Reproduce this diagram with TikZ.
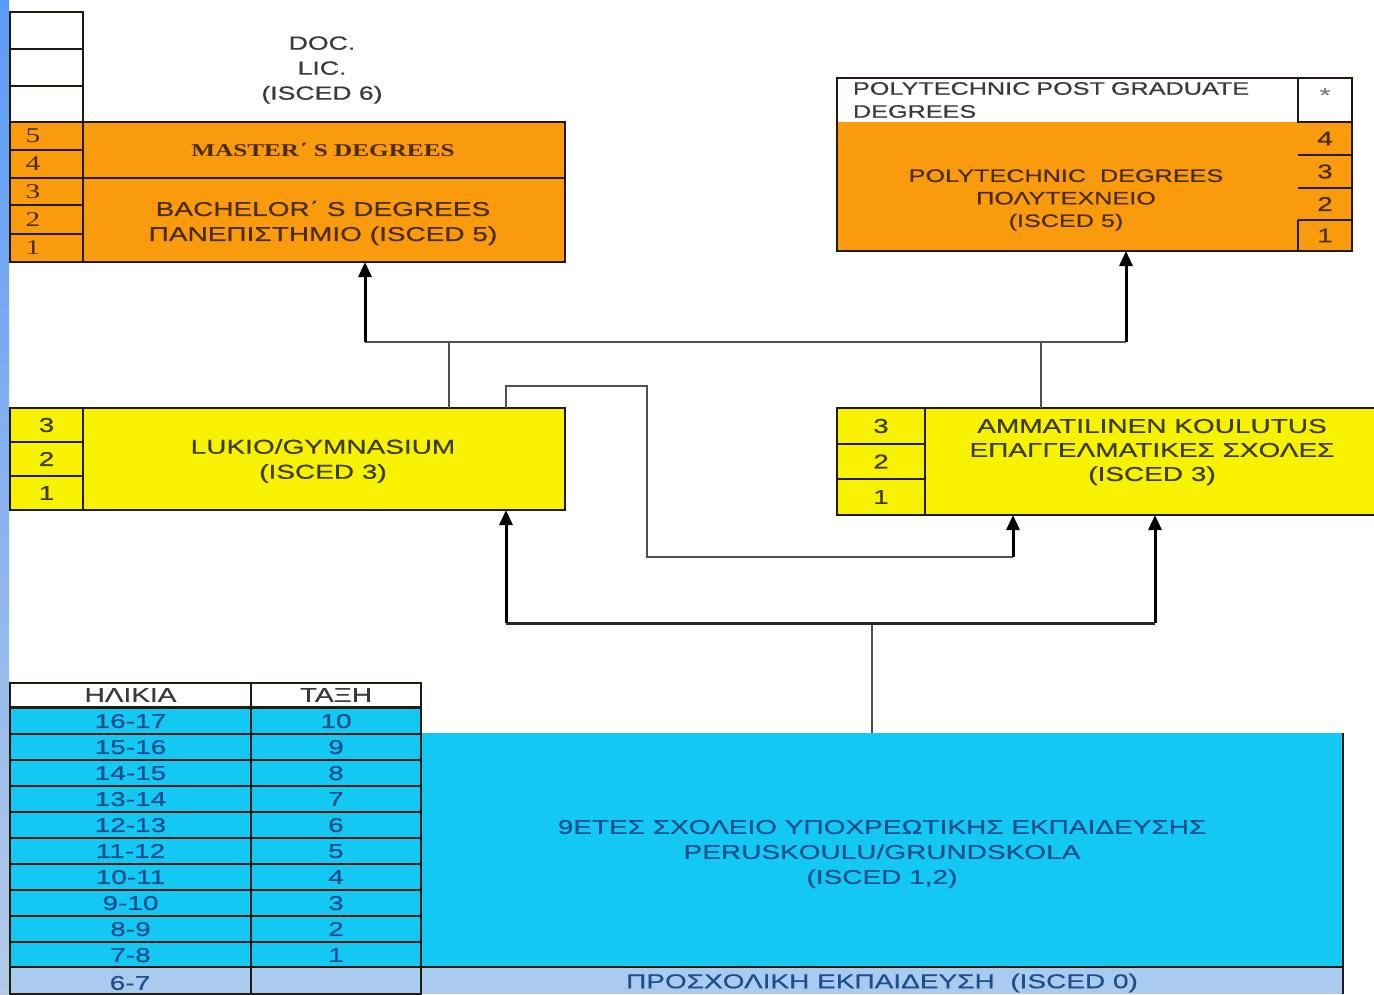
\documentclass[tikz,border=0pt]{standalone}
\usepackage{fontspec}
\setmainfont{Liberation Sans}[FakeStretch=1.4,FakeBold=0.6]
\newfontfamily\tnrfam{Liberation Serif}[FakeStretch=1.4]
\usetikzlibrary{arrows.meta}
\definecolor{orgF}{HTML}{F99B0C}
\definecolor{orgT}{HTML}{4A2C0A}
\definecolor{yelF}{HTML}{F6F200}
\definecolor{yelT}{HTML}{3C3C10}
\definecolor{cyF}{HTML}{14C8F4}
\definecolor{lbF}{HTML}{A9CBEF}
\definecolor{bd}{HTML}{231A0E}
\definecolor{tbT}{HTML}{1C4F8C}
\definecolor{hdT}{HTML}{3A3A3A}
\definecolor{cn}{HTML}{505050}
\definecolor{stA}{HTML}{5B9BF8}
\definecolor{stB}{HTML}{B4CAE6}
\newcommand{\rbox}[7]{\node[#1, minimum width={((#5)-(#3))*1pt}, minimum height={((#6)-(#4))*1pt}] (#2) at ({((#3)+(#5))/2},{((#4)+(#6))/2}) {#7};}
\begin{document}
\begin{tikzpicture}[x=1pt,y=-1pt,
  every node/.style={font=\fontsize{20}{25}\selectfont, inner sep=0pt, outer sep=0pt},
  bx/.style={draw=bd, line width=2.4pt, rectangle},
  bdline/.style={draw=bd, line width=2.4pt},
  numL/.style={font=\tnrfam\fontsize{21}{21}\selectfont, text=orgT},
  numS/.style={font=\fontsize{20}{20}\selectfont},
  conn/.style={draw=cn, line width=2pt},
  arr/.style={draw=black, line width=3pt, -{Triangle[width=13pt,length=15pt]}},
  tb/.style={bx, fill=cyF, text=tbT, text depth=0pt, yshift=-1pt}]
\useasboundingbox (0,0) rectangle (1374,994);
\fill[white] (0,0) rectangle (1374,994);
\shade[top color=stA, bottom color=stB] (0,0) rectangle (9,994);

% ---------- top left ----------
\rbox{bx,fill=white}{w1}{10}{12}{83}{49}{}
\rbox{bx,fill=white}{w2}{10}{49}{83}{86}{}
\rbox{bx,fill=white}{w3}{10}{86}{83}{122}{}
\rbox{bx,fill=orgF}{master}{83}{122}{565}{178}{}
\rbox{bx,fill=orgF}{bachelor}{83}{178}{565}{262}{}
\rbox{bx,fill=orgF,numL}{c5}{10}{122}{83}{150}{5\hspace*{27pt}}
\rbox{bx,fill=orgF,numL}{c4}{10}{150}{83}{178}{4\hspace*{27pt}}
\rbox{bx,fill=orgF,numL}{c3}{10}{178}{83}{205}{3\hspace*{27pt}}
\rbox{bx,fill=orgF,numL}{c2}{10}{205}{83}{234}{2\hspace*{27pt}}
\rbox{bx,fill=orgF,numL}{c1}{10}{234}{83}{262}{1\hspace*{27pt}}
\node[font=\tnrfam\bfseries\fontsize{18}{20}\selectfont, text=orgT] (masterT) at (323,150) {MASTER΄ S DEGREES};
\node[align=center, text=orgT] (bachelorT) at (323,223) {BACHELOR΄ S DEGREES\\ΠΑΝΕΠΙΣΤΗΜΙΟ (ISCED 5)};
\node[align=center, text=hdT, font=\fontsize{19}{25}\selectfont] (doc) at (322,70) {DOC.\\LIC.\\(ISCED 6)};

% ---------- top right ----------
\rbox{fill=white, text width=429pt, inner xsep=16pt, align=left, text=hdT, font=\fontsize{18}{23}\selectfont}{pgd}{837}{78}{1298}{122}{POLYTECHNIC POST GRADUATE\\DEGREES}
\rbox{fill=white}{pstar}{1298}{78}{1352}{122}{}
\node[text=gray, font=\fontsize{20}{20}\selectfont] (starT) at (1325,95) {*};
\rbox{fill=orgF}{poly}{837}{122}{1298}{251}{}
\rbox{fill=orgF,numS,text=orgT}{p4}{1298}{122}{1352}{155}{4}
\rbox{fill=orgF,numS,text=orgT}{p3}{1298}{155}{1352}{188}{3}
\rbox{fill=orgF,numS,text=orgT}{p2}{1298}{188}{1352}{220}{2}
\rbox{fill=orgF,numS,text=orgT}{p1}{1298}{220}{1352}{251}{1}
\node[align=center, text=orgT, font=\fontsize{18}{22.5}\selectfont] (polyT) at (1066,200) {POLYTECHNIC\ \ DEGREES\\ΠΟΛΥΤΕΧΝΕΙΟ\\(ISCED 5)};
\draw[bdline] (pgd.north west) rectangle (p1.south east);
\draw[bdline] (pstar.north west) -- (pstar.south west) -- (pstar.south east);
\draw[bdline] (p4.south west) -- (p4.south east);
\draw[bdline] (p3.south west) -- (p3.south east);
\draw[bdline] (p2.south west) -- (p2.south east);
\draw[bdline] (p1.north west) -- (p1.south west);

% ---------- Lukio ----------
\rbox{bx,fill=yelF}{lukio}{83}{408}{565}{510}{}
\node[align=center, text=yelT] (lukioT) at (323,461) {LUKIO/GYMNASIUM\\(ISCED 3)};
\rbox{bx,fill=yelF,numS,text=yelT}{l3}{10}{408}{83}{442}{3}
\rbox{bx,fill=yelF,numS,text=yelT}{l2}{10}{442}{83}{476}{2}
\rbox{bx,fill=yelF,numS,text=yelT}{l1}{10}{476}{83}{510}{1}

% ---------- Ammatilinen ----------
\rbox{fill=yelF}{amm}{925}{408}{1374}{515}{}
\draw[bdline] (amm.north west) -- (amm.north east);
\draw[bdline] (amm.south west) -- (amm.south east);
\node[align=center, text=yelT, font=\fontsize{20}{24}\selectfont] (ammT) at (1152,452) {AMMATILINEN KOULUTUS\\ΕΠΑΓΓΕΛΜΑΤΙΚΕΣ ΣΧΟΛΕΣ\\(ISCED 3)};
\rbox{bx,fill=yelF,numS,text=yelT}{r3}{837}{408}{925}{444}{3}
\rbox{bx,fill=yelF,numS,text=yelT}{r2}{837}{444}{925}{479}{2}
\rbox{bx,fill=yelF,numS,text=yelT}{r1}{837}{479}{925}{515}{1}

% ---------- bottom ----------
\rbox{fill=cyF}{big}{421}{733}{1343}{967}{}
\node[align=center, text=tbT] (bigT) at (882,854) {9ΕΤΕΣ ΣΧΟΛΕΙΟ ΥΠΟΧΡΕΩΤΙΚΗΣ ΕΚΠΑΙΔΕΥΣΗΣ\\PERUSKOULU/GRUNDSKOLA\\(ISCED 1,2)};
\rbox{fill=lbF}{pre}{421}{967}{1343}{994}{}
\node[text=tbT] (preT) at (882,983) {ΠΡΟΣΧΟΛΙΚΗ ΕΚΠΑΙΔΕΥΣΗ\ \ (ISCED 0)};
\draw[bdline] (big.south west) -- (big.south east);
\draw[bdline] (big.north east) -- (pre.south east);

\rbox{bx,fill=white,text=hdT}{hA}{10}{683}{251}{707}{ΗΛΙΚΙΑ}
\rbox{bx,fill=white,text=hdT}{hB}{251}{683}{421}{707}{ΤΑΞΗ}
\foreach \a/\g [count=\i from 0] in {16-17/10,15-16/9,14-15/8,13-14/7,12-13/6,11-12/5,10-11/4,9-10/3,8-9/2,7-8/1}{
  \rbox{tb}{age\i}{10}{707+26*\i}{251}{733+26*\i}{\a}
  \rbox{tb}{gr\i}{251}{707+26*\i}{421}{733+26*\i}{\g}
}
\rbox{bx,fill=lbF}{age10}{10}{967}{251}{994}{}
\node[text=tbT] (ageT10) at (130,983) {6-7};
\rbox{bx,fill=lbF}{gr10}{251}{967}{421}{994}{}

% ---------- connectors ----------
\coordinate (jL) at (365,342);
\coordinate (jR) at (1126,342);
\coordinate (jA) at (449,342);
\coordinate (jB) at (1041,342);
\draw[conn] (jL) -- (jR);
\draw[conn] (lukio.north -| jA) -- (jA);
\draw[conn] (amm.north -| jB) -- (jB);
\draw[arr] (jL) -- (jL |- bachelor.south);
\draw[arr] (jR) -- (jR |- poly.south);

\coordinate (k1) at (506,386);
\coordinate (k2) at (647,386);
\coordinate (k3) at (647,557);
\coordinate (k4) at (1013,557);
\draw[conn] (lukio.north -| k1) -- (k1) -- (k2) -- (k3) -- (k4);
\draw[arr] (k4) -- (k4 |- amm.south);

\coordinate (m0) at (872,623);
\coordinate (mL) at (506,623);
\coordinate (mR) at (1155,623);
\draw[conn] (big.north -| m0) -- (m0);
\draw[draw=black!85, line width=3pt] (mL) -- (mR);
\draw[arr] (mL) -- (mL |- lukio.south);
\draw[arr] (mR) -- (mR |- amm.south);
\end{tikzpicture}
\end{document}
